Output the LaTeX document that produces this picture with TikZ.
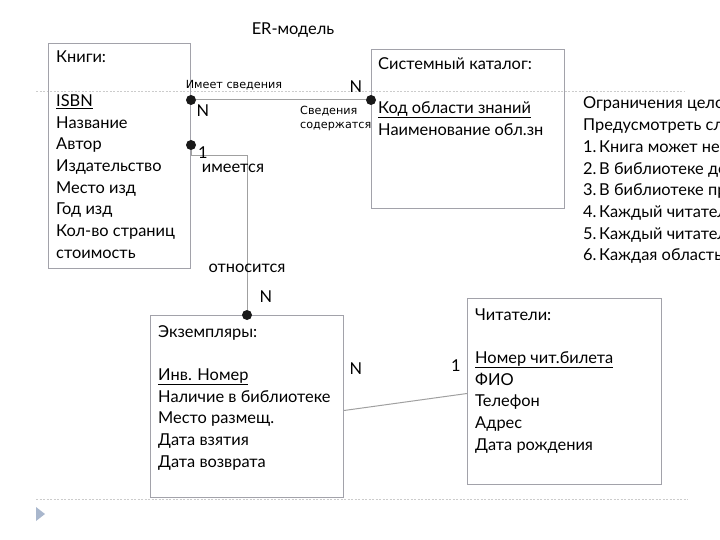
\documentclass[tikz,border=0pt]{standalone}
\usepackage{fontspec}
\setmainfont{Lato}
\newfontfamily\lblfont{DejaVu Sans}
\usepackage{tikz}
\usetikzlibrary{positioning}
\usepackage{xcolor}
\definecolor{boxgray}{HTML}{A2A2AA}
\definecolor{linegray}{HTML}{A0A0A0}
\definecolor{dotgray}{HTML}{CCCCCC}
\definecolor{triblue}{HTML}{A9B7CD}

\tikzset{
	ent/.style={draw=boxgray,line width=1pt,inner sep=0pt,anchor=north west},
	attr/.style={anchor=base west,inner sep=0pt,font=\fontsize{16.4}{19}\selectfont},
	card/.style={inner sep=0pt,font=\fontsize{16.4}{19}\selectfont},
	lbl/.style={inner sep=0pt,font=\lblfont\fontsize{11.2}{13.5}\selectfont},
	dot/.style={circle,fill=black!90,inner sep=0pt,minimum size=10pt},
	link/.style={draw=linegray,line width=1pt},
}

\begin{document}
\begin{tikzpicture}[x=1pt,y=-1pt]
		\useasboundingbox (0,0) rectangle (720,540);
		\clip (0,0) rectangle (720,540);
		\def\ls{21.7}
		% slide decoration
		\draw[dotgray,dashed,dash pattern=on 2pt off 1.5pt,line width=0.8pt] (36,91) -- (684,91);
		\draw[dotgray,dashed,dash pattern=on 2pt off 1.5pt,line width=0.8pt] (36,499) -- (688,499);
		\fill[triblue] (36,507) -- (36,521) -- (45,514) -- cycle;
		\node[card] (title) at (293,30) {ER-модель};
		% entities
		\node[ent,minimum width=142pt,minimum height=225pt] (knigi) at (48,43) {};
		\node[ent,minimum width=193pt,minimum height=159pt] (katalog) at (371,49) {};
		\node[ent,minimum width=193pt,minimum height=182pt] (ekz) at (150,315) {};
		\node[ent,minimum width=194pt,minimum height=186pt] (chit) at (467,298) {};
		% attributes
		\node[attr] (knigiT) at (56,63) {Книги:};
		\foreach \t [count=\i] in {\underline{ISBN},Название,Автор,Издательство,Место изд,Год изд,Кол-во страниц,стоимость}
			\node[attr] (knigi\i) at (56,{63+\ls*(\i+1)}) {\t};
		\node[attr] (katalogT) at (378,70) {Системный каталог:};
		\foreach \t [count=\i] in {\underline{Код области знаний},Наименование обл.зн}
			\node[attr] (katalog\i) at (378,{70+\ls*(\i+1)}) {\t};
		\node[attr] (ekzT) at (158,337) {Экземпляры:};
		\foreach \t [count=\i] in {\underline{Инв. Номер},Наличие в библиотеке,Место размещ.,Дата взятия,Дата возврата}
			\node[attr] (ekz\i) at (158,{337+\ls*(\i+1)}) {\t};
		\node[attr] (chitT) at (475,320) {Читатели:};
		\foreach \t [count=\i] in {\underline{Номер чит.билета},ФИО,Телефон,Адрес,Дата рождения}
			\node[attr] (chit\i) at (475,{320+\ls*(\i+1)}) {\t};
		% relations
		\node[dot] (d1) at (knigi.east |- 0,100) {};
		\node[dot] (d2) at (katalog.west |- 0,100) {};
		\node[dot] (d3) at (knigi.east |- 0,145) {};
		\node[dot] (d4) at (247,315) {};
		\coordinate (bend) at (247,156);
		\draw[link] (d1) -- (d2);
		\draw[link] (d3) |- (bend) -- (d4);
		\draw[link] ([yshift=-4pt]ekz.east) -- ([yshift=-2pt]chit.west);
		% labels
		\node[lbl] (has) at (234,85) {Имеет сведения};
		\node[lbl,align=left,anchor=north west] (cont) at (300,106) {Сведения\\содержатся};
		\node[card] (n1) at (356,87) {N};
		\node[card] (n2) at (203,111) {N};
		\node[card] (o1) at (203,153) {1};
		\node[card] (hasc) at (233,168) {имеется};
		\node[card] (rel) at (247,268) {относится};
		\node[card] (n3) at (266,297) {N};
		\node[card] (n4) at (356,369) {N};
		\node[card] (o2) at (456,366) {1};
		% constraints
		\node[attr] (c0) at (583,109) {Ограничения цело};
		\node[attr] (c00) at (583,{109+\ls}) {Предусмотреть сл};
		\foreach \t [count=\i] in {Книга может не,В библиотеке до,В библиотеке пр,Каждый читател,Каждый читател,Каждая область}{
			\node[attr] (cn\i) at (583,{109+\ls*(\i+1)}) {\i.};
			\node[attr] (c\i) at (599,{109+\ls*(\i+1)}) {\t};
		}
\end{tikzpicture}
\end{document}
